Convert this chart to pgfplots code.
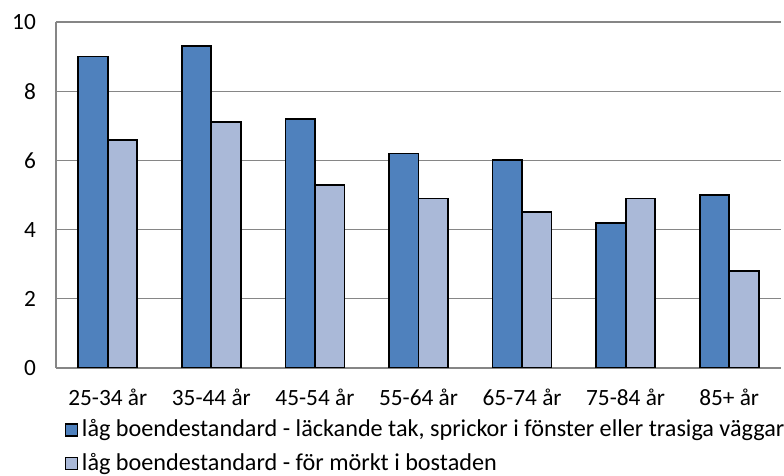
\documentclass[border=0pt]{standalone}
\usepackage{pgfplots}
\pgfplotsset{compat=1.18}
\usepackage{fontspec}
\setmainfont{Carlito}
\definecolor{darkb}{RGB}{79,129,189}
\definecolor{lightb}{RGB}{170,185,216}
\definecolor{gridg}{RGB}{134,134,134}
\begin{document}
\fontsize{11.65pt}{14pt}\selectfont
\begin{tikzpicture}
\useasboundingbox (-28pt,-54pt) rectangle (364pt,184pt);
\begin{axis}[
  scale only axis,
  width=362.5pt, height=173pt,
  ybar=0pt, bar width=0.285,
  xmin=-0.5, xmax=6.5, ymin=0, ymax=10,
  xtick={0,1,2,3,4,5,6},
  xticklabels={25-34 år,35-44 år,45-54 år,55-64 år,65-74 år,75-84 år,85+ år},
  ytick={0,2,4,6,8,10},
  major tick length=0pt,
  axis x line*=bottom, axis y line*=left,
  axis line style={gridg, line width=0.6pt, -},
  ymajorgrids, grid style={gridg, line width=0.6pt},
  /pgf/number format/assume math mode=true,
  tick label style={font=\fontsize{11.65pt}{14pt}\selectfont},
  yticklabel style={xshift=-6pt},
  xticklabel style={yshift=-6.5pt},
  legend style={at={(0.003,-0.125)}, anchor=north west, draw=none, fill=none,
    font=\fontsize{12.1pt}{14.5pt}\selectfont, row sep=2.5pt,
    /tikz/every even column/.append style={column sep=0pt}},
  legend cell align=left,
  legend image code/.code={\draw[#1, line width=0.7pt] (0pt,-3pt) rectangle (6pt,3pt);},
  every axis plot/.append style={draw=black, line width=0.9pt},
]
\addplot[fill=darkb] coordinates {(0,9.0) (1,9.3) (2,7.2) (3,6.2) (4,6.0) (5,4.2) (6,5.0)};
\addplot[fill=lightb] coordinates {(0,6.6) (1,7.1) (2,5.3) (3,4.9) (4,4.5) (5,4.9) (6,2.8)};
\legend{{låg boendestandard - läckande tak, sprickor i fönster eller trasiga väggar}, {låg boendestandard - för mörkt i bostaden}}
\end{axis}
\end{tikzpicture}
\end{document}
